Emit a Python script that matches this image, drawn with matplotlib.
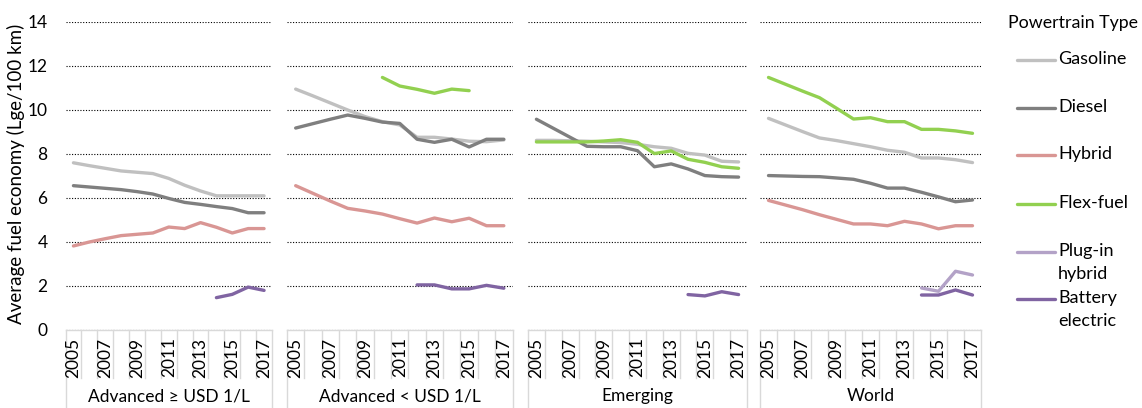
import numpy as np
import matplotlib
matplotlib.use("Agg")
import matplotlib.pyplot as plt
from matplotlib.lines import Line2D

plt.rcParams['font.family'] = ['Lato', 'DejaVu Sans']

# ----- Data -------------------------------------------------------------------
YEARS = list(range(2005, 2018))
REGIONS = ["Advanced \u2265 USD 1/L", "Advanced < USD 1/L", "Emerging", "World"]
SERIES = ["Gasoline", "Diesel", "Hybrid", "Flex-fuel", "Plug-in\nhybrid", "Battery\nelectric"]
COLORS = ["#c0c0c0", "#7f7f7f", "#d99694", "#92d050", "#b3a2c7", "#8064a2"]
nan = np.nan

# Advanced >= USD 1/L
adv_hi_gasoline = [7.6, 7.47, 7.35, 7.23, 7.17, 7.11, 6.89, 6.58, 6.32, 6.1, 6.1, 6.1, 6.1]
adv_hi_diesel = [6.56, 6.5, 6.44, 6.38, 6.29, 6.18, 5.98, 5.8, 5.71, 5.61, 5.52, 5.33, 5.33]
adv_hi_hybrid = [3.82, 4.0, 4.15, 4.29, 4.35, 4.41, 4.68, 4.61, 4.88, 4.67, 4.41, 4.61, 4.61]
adv_hi_flex = [nan] * 13
adv_hi_phev = [nan] * 13
adv_hi_bev = [nan] * 9 + [1.47, 1.62, 1.95, 1.8]

# Advanced < USD 1/L
adv_lo_gasoline = [10.95, 10.64, 10.32, 10.0, 9.7, 9.47, 9.32, 8.76, 8.76, 8.68, 8.58, 8.56, 8.64]
adv_lo_diesel = [9.18, 9.38, 9.58, 9.77, 9.62, 9.45, 9.39, 8.67, 8.53, 8.67, 8.32, 8.67, 8.67]
adv_lo_hybrid = [6.56, 6.21, 5.86, 5.53, 5.41, 5.27, 5.06, 4.86, 5.09, 4.92, 5.08, 4.74, 4.74]
adv_lo_flex = [nan] * 5 + [11.48, 11.09, 10.94, 10.76, 10.95, 10.88] + [nan] * 2
adv_lo_phev = [nan] * 13
adv_lo_bev = [nan] * 7 + [2.05, 2.05, 1.87, 1.87, 2.03, 1.9]

# Emerging
emg_gasoline = [8.62, 8.62, 8.6, 8.58, 8.55, 8.52, 8.44, 8.33, 8.26, 8.03, 7.95, 7.67, 7.64]
emg_diesel = [9.58, 9.17, 8.76, 8.35, 8.33, 8.33, 8.15, 7.42, 7.55, 7.32, 7.02, 6.97, 6.95]
emg_hybrid = [nan] * 13
emg_flex = [8.55, 8.55, 8.55, 8.55, 8.59, 8.65, 8.53, 8.02, 8.14, 7.76, 7.62, 7.42, 7.35]
emg_phev = [nan] * 13
emg_bev = [nan] * 9 + [1.61, 1.55, 1.74, 1.61]

# World
wld_gasoline = [9.62, 9.32, 9.02, 8.73, 8.61, 8.47, 8.33, 8.17, 8.08, 7.82, 7.82, 7.74, 7.61]
wld_diesel = [7.02, 7.0, 6.98, 6.97, 6.91, 6.85, 6.67, 6.45, 6.45, 6.26, 6.05, 5.83, 5.91]
wld_hybrid = [5.89, 5.68, 5.47, 5.24, 5.03, 4.82, 4.82, 4.74, 4.94, 4.82, 4.6, 4.74, 4.74]
wld_flex = [11.48, 11.17, 10.86, 10.56, 10.08, 9.59, 9.65, 9.47, 9.47, 9.12, 9.12, 9.05, 8.94]
wld_phev = [nan] * 9 + [1.91, 1.76, 2.67, 2.5]
wld_bev = [nan] * 9 + [1.59, 1.59, 1.82, 1.59]

PANEL_DATA = [
    [adv_hi_gasoline, adv_hi_diesel, adv_hi_hybrid, adv_hi_flex, adv_hi_phev, adv_hi_bev],
    [adv_lo_gasoline, adv_lo_diesel, adv_lo_hybrid, adv_lo_flex, adv_lo_phev, adv_lo_bev],
    [emg_gasoline, emg_diesel, emg_hybrid, emg_flex, emg_phev, emg_bev],
    [wld_gasoline, wld_diesel, wld_hybrid, wld_flex, wld_phev, wld_bev],
]
# ------------------------------------------------------------------------------

W, H = 1142, 408
PANEL_PX = [(65.5, 272), (287, 512.5), (528, 747), (760, 981)]
Y0_PX, Y1_PX = 330, 22
BOX = "#d9d9d9"

fig = plt.figure(figsize=(W / 100, H / 100), dpi=100)

x = np.arange(len(YEARS))
for p, (x0, x1) in enumerate(PANEL_PX):
    ax = fig.add_axes([x0 / W, 1 - Y0_PX / H, (x1 - x0) / W, (Y0_PX - Y1_PX) / H])
    ax.set_xlim(-0.5, len(YEARS) - 0.5)
    ax.set_ylim(0, 14)
    ax.set_yticks(range(0, 15, 2))
    ax.yaxis.grid(True, color="black", linestyle=(0, (1, 1.5)), linewidth=0.8)
    ax.set_axisbelow(True)
    for s in ["left", "right", "top"]:
        ax.spines[s].set_visible(False)
    ax.spines["bottom"].set_color(BOX)
    ax.spines["bottom"].set_linewidth(1)
    ax.set_xticks([])
    ax.tick_params(axis="y", length=0, labelsize=12.5, pad=13)
    if p > 0:
        ax.tick_params(axis="y", labelleft=False)

    # draw order: keep gasoline under diesel as in the original
    for vals, col in zip(PANEL_DATA[p], COLORS):
        ax.plot(x, vals, color=col, lw=2.4, solid_capstyle="round", solid_joinstyle="round")

    # category box under the axis
    trans = ax.get_xaxis_transform()
    for b in np.arange(-0.5, len(YEARS)):
        outer = b in (-0.5, len(YEARS) - 0.5)
        ax.plot([b, b], [0, -0.26 if outer else -0.156], color=BOX, lw=1,
                transform=trans, clip_on=False)
    for i, yr in enumerate(YEARS):
        if i % 2 == 0:
            ax.text(i, -0.024, str(yr), rotation=90, ha="center", va="top",
                    fontsize=12.5, transform=trans)
    ax.text((len(YEARS) - 1) / 2, -0.215, REGIONS[p], ha="center", va="center",
            fontsize=12.5, transform=trans)

fig.text(16 / W, 1 - 174 / H, "Average fuel economy (Lge/100 km)", rotation=90,
         ha="center", va="center", fontsize=13.5)

# legend
fig.text(1008 / W, 1 - 23 / H, "Powertrain Type", ha="left", va="center", fontsize=12.8)
LEG_Y = [60, 108, 155, 204, 252, 299]
for lab, col, ly in zip(SERIES, COLORS, LEG_Y):
    fig.add_artist(Line2D([1017 / W, 1055 / W], [1 - ly / H] * 2, color=col, lw=2.4,
                          solid_capstyle="round"))
    fig.text(1058 / W, 1 - (ly - 9) / H, lab, ha="left", va="top", fontsize=13,
             linespacing=1.52)

fig.savefig("out.png", dpi=100)
